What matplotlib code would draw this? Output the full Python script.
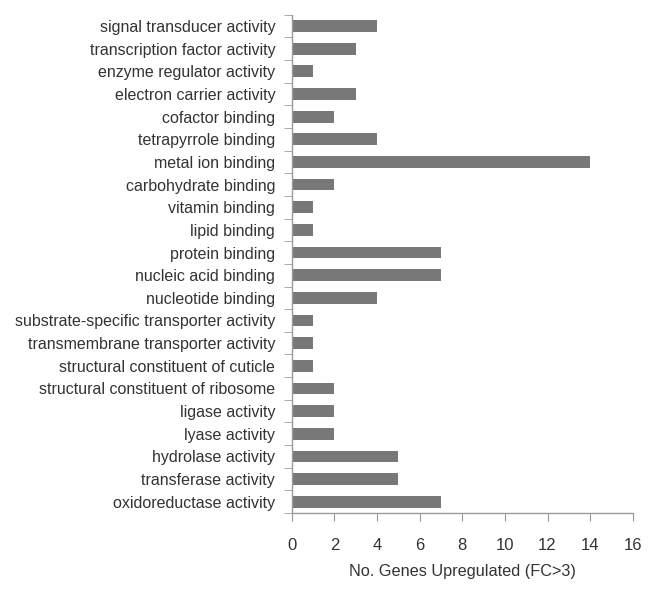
import numpy as np
import matplotlib
matplotlib.use("Agg")
import matplotlib.pyplot as plt

plt.rcParams['font.family'] = ['Liberation Sans', 'DejaVu Sans']

# GO molecular function categories, top to bottom
categories = [
    "signal transducer activity",
    "transcription factor activity",
    "enzyme regulator activity",
    "electron carrier activity",
    "cofactor binding",
    "tetrapyrrole binding",
    "metal ion binding",
    "carbohydrate binding",
    "vitamin binding",
    "lipid binding",
    "protein binding",
    "nucleic acid binding",
    "nucleotide binding",
    "substrate-specific transporter activity",
    "transmembrane transporter activity",
    "structural constituent of cuticle",
    "structural constituent of ribosome",
    "ligase activity",
    "lyase activity",
    "hydrolase activity",
    "transferase activity",
    "oxidoreductase activity",
]
counts = [4, 3, 1, 3, 2, 4, 14, 2, 1, 1, 7, 7, 4, 1, 1, 1, 2, 2, 2, 5, 5, 7]
x_ticks = [0, 2, 4, 6, 8, 10, 12, 14, 16]

fig = plt.figure(figsize=(6.53, 5.89), dpi=100)
ax = fig.add_axes([0.447, 0.129, 0.522, 0.846])

n = len(categories)
ypos = np.arange(n)[::-1]
ax.barh(ypos, counts, height=0.52, color='#787878')

ax.set_xlim(0, 16)
ax.set_ylim(-0.5, n - 0.5)
ax.set_xticks(x_ticks)
ax.set_yticks(ypos)
ax.set_yticklabels(categories)
# boundary ticks on the category axis
ax.set_yticks(np.arange(-0.5, n, 1.0), minor=True)

for s in ['top', 'right']:
    ax.spines[s].set_visible(False)
for s in ['left', 'bottom']:
    ax.spines[s].set_color('#9a9a9a')
    ax.spines[s].set_linewidth(1.0)

ax.tick_params(axis='y', which='major', length=0, pad=12, labelsize=11.5, labelcolor='#333333')
ax.tick_params(axis='y', which='minor', length=6, color='#9a9a9a', direction='out')
ax.tick_params(axis='x', which='major', length=6, color='#9a9a9a', direction='out',
               pad=12, labelsize=12, labelcolor='#333333')

ax.set_xlabel('No. Genes Upregulated (FC>3)', fontsize=11.7, color='#333333', labelpad=8)

fig.savefig('out.png', dpi=100)
